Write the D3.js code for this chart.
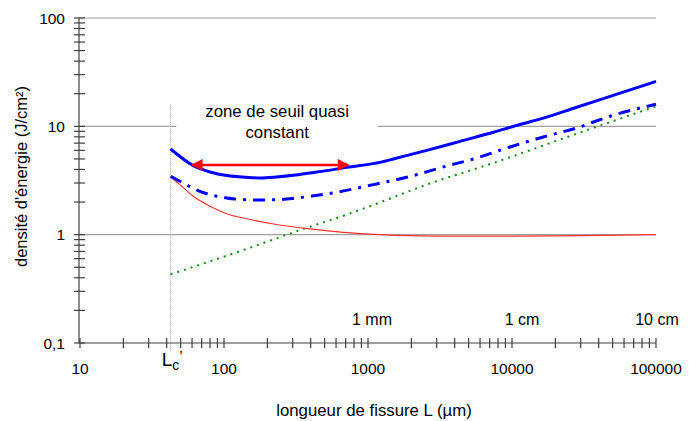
<!DOCTYPE html>
<html><head><meta charset="utf-8">
<script src="https://cdn.jsdelivr.net/npm/d3@7"></script>
<style>
html,body{margin:0;padding:0;background:#fff;}
svg text{font-family:"Liberation Sans",Arial,sans-serif;fill:#000;}
</style></head>
<body>
<svg id="c" width="693" height="421"></svg>
<script>
// ---- data ----
const solidLengths = [42.6, 61.2, 80, 104.5, 144, 178, 232, 303, 395, 516, 711, 880, 1211, 1500, 2560, 4360, 7420, 10790, 16500, 28100, 48000, 100000];
const solidValues  = [6.18, 4.34, 3.79, 3.51, 3.38, 3.34, 3.41, 3.53, 3.71, 3.90, 4.18, 4.34, 4.65, 5.0, 6.0, 7.27, 8.81, 10.2, 11.9, 15.0, 18.9, 26.0];
const dashDotLengths = [42.6, 49.4, 68, 104.5, 144, 178, 232, 303, 395, 574, 900, 1148, 1960, 3340, 5690, 9690, 16500, 28100, 48000, 100000];
const dashDotValues  = [3.45, 3.11, 2.51, 2.18, 2.10, 2.09, 2.10, 2.16, 2.26, 2.43, 2.74, 2.94, 3.45, 4.22, 5.1, 6.45, 7.98, 9.66, 12.4, 16.0];
const redLengths = [42.6, 49.4, 61.2, 80, 104.5, 144, 232, 395, 673, 1211, 3000, 10000, 30000, 100000];
const redValues  = [3.41, 2.90, 2.26, 1.83, 1.56, 1.40, 1.24, 1.13, 1.05, 1.0, 0.97, 0.97, 0.98, 1.0];
const greenLengths = [42.6, 144, 356, 711, 953, 2560, 7420, 21500, 36700, 100000];
const greenValues  = [0.43, 0.74, 1.13, 1.53, 1.76, 2.90, 4.59, 7.54, 9.67, 15.3];
const xTickValues = [10, 100, 1000, 10000, 100000];
const xTickLabels = ["10", "100", "1000", "10000", "100000"];
const yTickValues = [0.1, 1, 10, 100];
const yTickLabels = ["0,1", "1", "10", "100"];
const gridValues = [1, 10, 100];
const unitLabels = [{L: 1000, text: "1 mm", dx: 4}, {L: 10000, text: "1 cm", dx: 10}, {L: 100000, text: "10 cm", dx: 1}];
const Lc = 42.6;
const arrowRange = [60, 730];
const arrowLevel = 4.4;
const annotationLines = ["zone de seuil quasi", "constant"];
const annotationAt = {L: 234, v: 10};
const xTitle = "longueur de fissure L (µm)";
const yTitle = "densité d'énergie (J/cm²)";

// ---- scales ----
const svg = d3.select("#c");
const x = d3.scaleLog().domain([10, 100000]).range([80, 656]);
const y = d3.scaleLog().domain([0.1, 100]).range([343, 18]);
const axisColor = "#404040";

// gridlines
svg.append("g").selectAll("line").data(gridValues).join("line")
  .attr("x1", x.range()[0] - 1).attr("x2", x.range()[1])
  .attr("y1", d => y(d)).attr("y2", d => y(d))
  .attr("stroke", "#a0a0a0").attr("stroke-width", 1.2);

// annotation with white background
const ann = svg.append("g");
const annText = ann.append("text").attr("text-anchor", "middle").style("font-size", "16.8px").attr("fill", "#111");
annotationLines.forEach((t, i) => {
  annText.append("tspan").attr("x", x(annotationAt.L)).attr("y", y(annotationAt.v) - 9 + i * 21).text(t);
});
const bb = annText.node().getBBox();
ann.insert("rect", "text").attr("x", bb.x - 29).attr("y", bb.y - 3).attr("width", bb.width + 58).attr("height", bb.height + 6).attr("fill", "#fff");

// Lc' dotted vertical line
svg.append("line").attr("x1", x(Lc)).attr("x2", x(Lc)).attr("y1", y(16)).attr("y2", y.range()[0] + 9)
  .attr("stroke", "#b0b0b0").attr("stroke-width", 1).attr("stroke-dasharray", "1,1");

// axes
const xAxisG = svg.append("g");
xAxisG.append("line").attr("x1", x.range()[0] - 1).attr("x2", x.range()[1]).attr("y1", y.range()[0]).attr("y2", y.range()[0]).attr("stroke", axisColor).attr("stroke-width", 1.2);
const xMinor = [];
for (let e = 1; e <= 5; e++) for (let k = 1; k <= 9; k++) { const v = k * Math.pow(10, e); if (v >= 10 && v <= 100000) xMinor.push(v); }
xAxisG.selectAll("line.t").data(xMinor).join("line").attr("class", "t")
  .attr("x1", d => x(d)).attr("x2", d => x(d)).attr("y1", y.range()[0] - 5).attr("y2", y.range()[0] + 5)
  .attr("stroke", axisColor).attr("stroke-width", 1.2);
xAxisG.selectAll("text").data(xTickValues).join("text")
  .attr("x", d => x(d)).attr("y", y.range()[0] + 31).attr("text-anchor", "middle").style("font-size", "15.5px")
  .text((d, i) => xTickLabels[i]);

const yAxisG = svg.append("g");
yAxisG.append("line").attr("x1", x.range()[0] - 1).attr("x2", x.range()[0] - 1).attr("y1", y.range()[1]).attr("y2", y.range()[0]).attr("stroke", axisColor).attr("stroke-width", 1.2);
const yMinor = [];
for (let e = -1; e <= 2; e++) for (let k = 1; k <= 9; k++) { const v = +(k * Math.pow(10, e)).toPrecision(3); if (v >= 0.1 && v <= 100) yMinor.push(v); }
yAxisG.selectAll("line.t").data(yMinor).join("line").attr("class", "t")
  .attr("x1", x.range()[0] - 6).attr("x2", x.range()[0] + 5).attr("y1", d => y(d)).attr("y2", d => y(d))
  .attr("stroke", axisColor).attr("stroke-width", 1.2);
yAxisG.selectAll("text").data(yTickValues).join("text")
  .attr("x", x.range()[0] - 15).attr("y", d => y(d) + 5.5).attr("text-anchor", "end").style("font-size", "15.5px")
  .text((d, i) => yTickLabels[i]);

// unit labels
svg.append("g").selectAll("text").data(unitLabels).join("text")
  .attr("x", d => x(d.L) + d.dx).attr("y", y(0.1) - 18).attr("text-anchor", "middle").style("font-size", "16px")
  .text(d => d.text);

// Lc' label
const lcText = svg.append("text").attr("x", x(Lc) - 9).attr("y", y.range()[0] + 23).style("font-size", "19px");
lcText.append("tspan").text("L");
lcText.append("tspan").attr("dy", 4).style("font-size", "14px").text("c");
lcText.append("tspan").attr("dy", -9).style("font-size", "15px").text("’");

// titles
svg.append("text").attr("x", (x.range()[0] + x.range()[1]) / 2 + 6).attr("y", 416).attr("text-anchor", "middle").style("font-size", "16.8px").text(xTitle);
svg.append("text").attr("transform", `translate(27,${(y.range()[0] + y.range()[1]) / 2 - 4}) rotate(-90)`).attr("text-anchor", "middle").style("font-size", "16.5px").text(yTitle);

// curves
const line = d3.line().x(d => x(d[0])).y(d => y(d[1])).curve(d3.curveMonotoneX);
const zipped = (xs, ys) => xs.map((v, i) => [v, ys[i]]);
svg.append("path").attr("d", line(zipped(greenLengths, greenValues))).attr("fill", "none")
  .attr("stroke", "#1a8a1a").attr("stroke-width", 2).attr("stroke-dasharray", "2,5");
svg.append("path").attr("d", line(zipped(redLengths, redValues))).attr("fill", "none")
  .attr("stroke", "#ff3030").attr("stroke-width", 1.1);
svg.append("path").attr("d", line(zipped(dashDotLengths, dashDotValues))).attr("fill", "none")
  .attr("stroke", "#0000ff").attr("stroke-width", 3).attr("stroke-dasharray", "12,7,3,7");
svg.append("path").attr("d", line(zipped(solidLengths, solidValues))).attr("fill", "none")
  .attr("stroke", "#0000ff").attr("stroke-width", 3);

// arrow
const defs = svg.append("defs");
["s", "e"].forEach(id => {
  defs.append("marker").attr("id", "ar" + id).attr("viewBox", "0 0 10 10").attr("refX", 9).attr("refY", 5)
    .attr("markerWidth", 5).attr("markerHeight", 4.5).attr("markerUnits", "strokeWidth")
    .attr("orient", id === "s" ? "auto-start-reverse" : "auto")
    .append("path").attr("d", "M0,0 L10,5 L0,10 z").attr("fill", "#ff0000");
});
svg.append("line").attr("x1", x(arrowRange[0])).attr("x2", x(arrowRange[1])).attr("y1", y(arrowLevel)).attr("y2", y(arrowLevel))
  .attr("stroke", "#ff0000").attr("stroke-width", 2.6).attr("marker-start", "url(#ars)").attr("marker-end", "url(#are)");
</script>
</body></html>
